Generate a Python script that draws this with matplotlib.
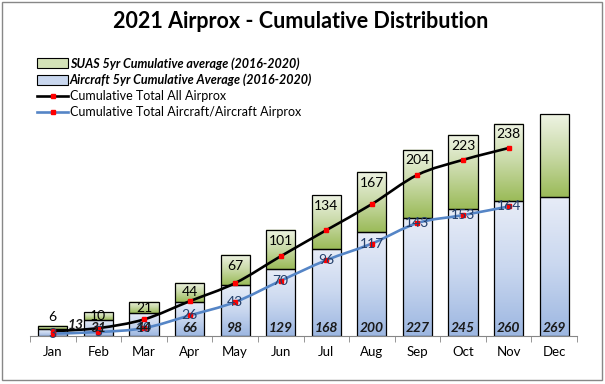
import numpy as np
import matplotlib
matplotlib.use("Agg")
import matplotlib.pyplot as plt
from matplotlib.colors import LinearSegmentedColormap
from matplotlib.patches import Rectangle, Patch, PathPatch
from matplotlib.lines import Line2D
from matplotlib.path import Path

plt.rcParams['font.family'] = ['Lato', 'DejaVu Sans']

months = ['Jan', 'Feb', 'Mar', 'Apr', 'May', 'Jun', 'Jul', 'Aug', 'Sep', 'Oct', 'Nov', 'Dec']
# 5yr averages (stacked bars, primary axis)
aircraft_avg = [13, 31, 44, 66, 98, 129, 168, 200, 227, 245, 260, 269]
suas_avg = [6, 15, 22, 37, 58, 76, 104, 117, 133, 143, 150, 159]
# 2021 cumulative totals (lines, secondary axis), Jan-Nov
total_all = [6, 10, 21, 44, 67, 101, 134, 167, 204, 223, 238]
total_aircraft = [3, 5, 10, 26, 43, 70, 96, 117, 143, 153, 164]

W, H = 605, 384
fig = plt.figure(figsize=(W / 100, H / 100), dpi=100)
ax = fig.add_axes([30 / W, 48 / H, 547 / W, 233 / H])
ax2 = ax.twinx()

blue_cmap = LinearSegmentedColormap.from_list('b', ['#9DB7E1', '#C9D7EF', '#E7ECF7'])
green_cmap = LinearSegmentedColormap.from_list('g', ['#9BBB59', '#C8D9A6', '#EEF3E3'])
grad = np.linspace(0, 1, 64).reshape(-1, 1)

x = np.arange(len(months))
bw = 0.64
for i in x:
    segs = [(0, aircraft_avg[i], blue_cmap), (aircraft_avg[i], aircraft_avg[i] + suas_avg[i], green_cmap)]
    for y0, y1, cm in segs:
        ax.imshow(grad, extent=[i - bw / 2, i + bw / 2, y0, y1], aspect='auto',
                  cmap=cm, origin='lower', zorder=1, interpolation='bilinear')
        ax.add_patch(Rectangle((i - bw / 2, y0), bw, y1 - y0, fill=False,
                               edgecolor='black', lw=0.9, zorder=2))

ax.set_xlim(-0.5, 11.5)
ax.set_ylim(0, 450)
ax2.set_ylim(0, 295)

for a in (ax, ax2):
    for s in ('top', 'right', 'left'):
        a.spines[s].set_visible(False)
    a.set_yticks([])
ax.spines['bottom'].set_color('#868686')
ax2.spines['bottom'].set_visible(False)
ax.set_xticks(x)
ax.set_xticklabels(months, fontsize=9.5)
ax.set_xticks(np.arange(-0.5, 12, 1), minor=True)
ax.tick_params(axis='x', which='major', length=0, pad=7)
ax.tick_params(axis='x', which='minor', length=4, color='#868686')


def smooth_path(xs, ys):
    pts = np.column_stack([xs, ys]).astype(float)
    verts = [pts[0]]
    codes = [Path.MOVETO]
    n = len(pts)
    for k in range(n - 1):
        p0 = pts[k - 1] if k > 0 else pts[k]
        p1, p2 = pts[k], pts[k + 1]
        p3 = pts[k + 2] if k + 2 < n else pts[k + 1]
        c1 = p1 + (p2 - p0) / 6
        c2 = p2 - (p3 - p1) / 6
        verts += [c1, c2, p2]
        codes += [Path.CURVE4] * 3
    return Path(verts, codes)


xl = x[:len(total_all)]
ax2.add_patch(PathPatch(smooth_path(xl, total_all), fill=False, edgecolor='black', lw=1.9, zorder=3))
ax2.add_patch(PathPatch(smooth_path(xl, total_aircraft), fill=False, edgecolor='#5585C6', lw=1.9, zorder=3))
ax2.plot(xl, total_all, ls='none', marker='s', ms=3.5, color='#FF0000', zorder=4)
ax2.plot(xl, total_aircraft, ls='none', marker='s', ms=3.5, color='#FF0000', zorder=4)

# labels
px_per_unit = 233 / 450
for i in x:
    if i < len(total_all):
        top = aircraft_avg[i] + suas_avg[i]
        seg_px = suas_avg[i] * px_per_unit
        off = 9 if i == 0 else -min(10.7, seg_px / 2)
        ax2.annotate(str(total_all[i]), xy=(i, top * 295 / 450), xytext=(0, off),
                     textcoords='offset pixels', ha='center', va='center',
                     fontsize=10, color='black', zorder=6)
        ax2.annotate(str(total_aircraft[i]), xy=(i, total_aircraft[i]), xytext=(0, 0),
                     textcoords='offset pixels', ha='center', va='center',
                     fontsize=10, color='#243F6A', zorder=6)
    dx, dy = (23, 11) if i == 0 else (0, 8)
    ax2.annotate(str(aircraft_avg[i]), xy=(i, 0), xytext=(dx, dy),
                 textcoords='offset pixels', ha='center', va='center',
                 fontsize=10, fontweight='bold', fontstyle='italic', color='#1A1A1A', zorder=6)

fig.text(301 / W, 1 - 22 / H, '2021 Airprox - Cumulative Distribution',
         ha='center', va='center', fontsize=15.5, fontweight='bold')

handles = [
    Patch(facecolor='#D4E2B8', edgecolor='black', lw=0.8),
    Patch(facecolor='#C9D7EF', edgecolor='black', lw=0.8),
    Line2D([], [], color='black', lw=1.9, marker='s', ms=3.5, mfc='#FF0000', mec='#FF0000'),
    Line2D([], [], color='#5585C6', lw=1.9, marker='s', ms=3.5, mfc='#FF0000', mec='#FF0000'),
]
labels = ['SUAS 5yr Cumulative average (2016-2020)',
          'Aircraft 5yr Cumulative Average (2016-2020)',
          'Cumulative Total All Airprox',
          'Cumulative Total Aircraft/Aircraft Airprox']
leg = fig.legend(handles, labels, loc='upper left', bbox_to_anchor=(37 / W, 1 - 57 / H),
                 frameon=False, fontsize=9, handlelength=2.5, handleheight=0.85,
                 handletextpad=0.12, labelspacing=0.32, borderpad=0, borderaxespad=0)
for t in leg.get_texts()[:2]:
    t.set_fontweight('bold')
    t.set_fontstyle('italic')

fig.add_artist(Rectangle((2 / W, 1 - 380 / H), 600 / W, 378 / H, transform=fig.transFigure,
                         fill=False, edgecolor='#878787', lw=1))

fig.savefig('out.png', dpi=100)
